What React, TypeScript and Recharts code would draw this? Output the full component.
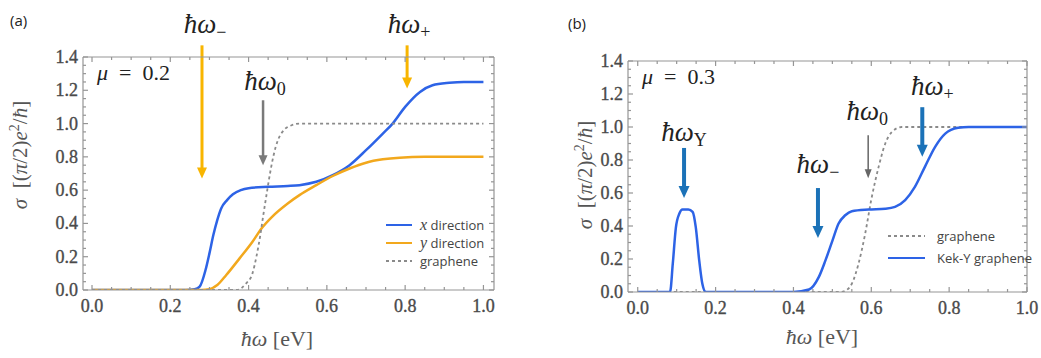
import React from "react";
import { LineChart, Line, XAxis, YAxis, ReferenceLine, Legend } from "recharts";

// panel (a), mu = 0.2
const xDirE = [0, 0.24, 0.262, 0.275, 0.29, 0.3, 0.31, 0.32, 0.33, 0.345, 0.36, 0.38, 0.4, 0.45, 0.5, 0.53, 0.573, 0.615, 0.658, 0.7, 0.743, 0.768, 0.8, 0.838, 0.87, 0.913, 0.95, 1.0];
const xDirS = [0, 0, 0.004, 0.02, 0.12, 0.22, 0.33, 0.42, 0.49, 0.54, 0.575, 0.6, 0.612, 0.62, 0.625, 0.63, 0.65, 0.69, 0.75, 0.84, 0.94, 1.0, 1.1, 1.19, 1.23, 1.245, 1.25, 1.25];

const yDirE = [0, 0.28, 0.3, 0.32, 0.343, 0.377, 0.41, 0.433, 0.46, 0.5, 0.53, 0.573, 0.615, 0.658, 0.7, 0.743, 0.786, 0.85, 1.0];
const yDirS = [0, 0, 0.005, 0.03, 0.09, 0.19, 0.29, 0.37, 0.44, 0.52, 0.57, 0.63, 0.685, 0.73, 0.765, 0.785, 0.795, 0.8, 0.8];

const grapheneAE = [0, 0.37, 0.394, 0.41, 0.42, 0.43, 0.437, 0.445, 0.454, 0.463, 0.475, 0.49, 0.51, 0.53, 1.0];
const grapheneAS = [0, 0, 0.04, 0.1, 0.2, 0.33, 0.44, 0.56, 0.69, 0.8, 0.9, 0.96, 0.99, 1.0, 1.0];

// panel (b), mu = 0.3
const kekYE = [0, 0.083, 0.09, 0.098, 0.107, 0.115, 0.13, 0.141, 0.149, 0.158, 0.166, 0.175, 0.4, 0.44, 0.465, 0.482, 0.5, 0.516, 0.533, 0.55, 0.593, 0.636, 0.661, 0.687, 0.712, 0.738, 0.764, 0.79, 0.823, 0.85, 1.0];
const kekYS = [0, 0, 0.17, 0.39, 0.476, 0.5, 0.5, 0.486, 0.395, 0.19, 0.05, 0, 0, 0.015, 0.09, 0.19, 0.31, 0.415, 0.465, 0.49, 0.5, 0.505, 0.516, 0.557, 0.637, 0.76, 0.88, 0.96, 0.995, 1.0, 1.0];

const grapheneBE = [0, 0.52, 0.535, 0.55, 0.567, 0.584, 0.6, 0.619, 0.636, 0.653, 0.678, 1.0];
const grapheneBS = [0, 0, 0.01, 0.05, 0.17, 0.35, 0.56, 0.76, 0.9, 0.97, 1.0, 1.0];

const xTicks = [0, 0.05, 0.1, 0.15, 0.2, 0.25, 0.3, 0.35, 0.4, 0.45, 0.5, 0.55, 0.6, 0.65, 0.7, 0.75, 0.8, 0.85, 0.9, 0.95, 1.0];
const yTicks = [0, 0.05, 0.1, 0.15, 0.2, 0.25, 0.3, 0.35, 0.4, 0.45, 0.5, 0.55, 0.6, 0.65, 0.7, 0.75, 0.8, 0.85, 0.9, 0.95, 1.0, 1.05, 1.1, 1.15, 1.2, 1.25, 1.3, 1.35, 1.4];
const tickLabels = ["0.0", "0.2", "0.4", "0.6", "0.8", "1.0", "1.2", "1.4"];

const legendOrderA = ["x direction", "y direction", "graphene"];
const legendOrderB = ["graphene", "Kek-Y graphene"];

// annotation arrows: energy, sigma from, sigma to, subscript
const arrowsA = [
  { e: 0.281, from: 1.47, to: 0.67, sub: "\u2212", color: "#f8b500", w: 3, hw: 10, hl: 11, gap: 12, dx: 3 },
  { e: 0.805, from: 1.47, to: 1.21, sub: "+", color: "#f8b500", w: 3, hw: 10, hl: 11, gap: 12, dx: 2 },
  { e: 0.437, from: 1.14, to: 0.75, sub: "0", color: "#7a7a7a", w: 2.5, hw: 9, hl: 10, gap: 10, dx: 2 },
];
const arrowsB = [
  { e: 0.119, from: 0.873, to: 0.57, sub: "Y", color: "#1b72b8", w: 4, hw: 11, hl: 12, gap: 7, dx: 0 },
  { e: 0.463, from: 0.63, to: 0.327, sub: "\u2212", color: "#1b72b8", w: 4, hw: 11, hl: 12, gap: 15, dx: 0 },
  { e: 0.592, from: 0.95, to: 0.69, sub: "0", color: "#666", w: 1.5, hw: 7, hl: 9, gap: 15, dx: -1 },
  { e: 0.731, from: 1.12, to: 0.82, sub: "+", color: "#1b72b8", w: 4, hw: 11, hl: 12, gap: 12, dx: 10 },
];

const zip = (e: number[], s: number[]) => e.map((v, i) => ({ e: v, s: s[i] }));

const FRAME = "#959595";
const TXT = "#4a4a4a";
const SERIF = "'Liberation Serif', 'DejaVu Serif', serif";
const SANS = "'Open Sans', 'Liberation Sans', sans-serif";

const isMajor = (v: number) => Math.abs(v * 5 - Math.round(v * 5)) < 1e-6;
const tickLen = (v: number) => (isMajor(v) ? 5 : 3);

const TickText = (props: any) => (
  <text fontFamily={SERIF} fontSize={18} fill={TXT} stroke={TXT} strokeWidth={0.35} {...props} />
);

const BottomTick = (p: any) => {
  const v = p.payload.value;
  return (
    <g>
      <line x1={p.x} x2={p.x} y1={p.y} y2={p.y - tickLen(v)} stroke={FRAME} strokeWidth={1.2} />
      {isMajor(v) && (
        <TickText x={p.x} y={p.y + 22} textAnchor="middle">
          {tickLabels[Math.round(v * 5)]}
        </TickText>
      )}
    </g>
  );
};
const TopTick = (p: any) => (
  <line x1={p.x} x2={p.x} y1={p.y} y2={p.y + tickLen(p.payload.value)} stroke={FRAME} strokeWidth={1.2} />
);
const LeftTick = (p: any) => {
  const v = p.payload.value;
  return (
    <g>
      <line x1={p.x} x2={p.x + tickLen(v)} y1={p.y} y2={p.y} stroke={FRAME} strokeWidth={1.2} />
      {isMajor(v) && (
        <TickText x={p.x - 5} y={p.y + 6} textAnchor="end">
          {tickLabels[Math.round(v * 5)]}
        </TickText>
      )}
    </g>
  );
};
const RightTick = (p: any) => (
  <line x1={p.x} x2={p.x - tickLen(p.payload.value)} y1={p.y} y2={p.y} stroke={FRAME} strokeWidth={1.2} />
);

const arrowShape = (a: any) => (props: any) => {
  const { x1, y1, x2, y2 } = props;
  return (
    <g>
      <line x1={x1} y1={y1} x2={x2} y2={y2 - a.hl + 1} stroke={a.color} strokeWidth={a.w} />
      <polygon
        points={`${x2 - a.hw / 2},${y2 - a.hl} ${x2 + a.hw / 2},${y2 - a.hl} ${x2},${y2}`}
        fill={a.color}
      />
      <text x={x1 + a.dx} y={y1 - a.gap} textAnchor="middle" fontFamily={SERIF} fontSize={27} fill="#222">
        <tspan fontStyle="italic">ħω</tspan>
        <tspan fontSize={18} dy={5}>{a.sub}</tspan>
      </text>
    </g>
  );
};

const makeLegend = (order: string[], rowGap: number, lineLen: number, textX: number) => (props: any) => {
  const items = [...(props.payload || [])].sort((a: any, b: any) => order.indexOf(a.value) - order.indexOf(b.value));
  return (
    <svg width={170} height={rowGap * items.length + 10}>
      {items.map((it: any, i: number) => {
        const y = 12 + i * rowGap;
        const m = /^([xy]) (.*)$/.exec(it.value);
        return (
          <g key={i}>
            <line
              x1={6}
              x2={6 + lineLen}
              y1={y}
              y2={y}
              stroke={it.color}
              strokeWidth={2}
              strokeDasharray={it.payload?.strokeDasharray}
            />
            <text x={textX} y={y + 4.5} fontFamily={SANS} fontSize={13} fill="#444">
              {m ? (
                <>
                  <tspan fontFamily={SERIF} fontStyle="italic" fontSize={16}>{m[1]}</tspan>
                  <tspan> {m[2]}</tspan>
                </>
              ) : (
                it.value
              )}
            </text>
          </g>
        );
      })}
    </svg>
  );
};

const axes = (xDomain: [number, number]) => [
  <XAxis key="xb" xAxisId={0} dataKey="e" type="number" domain={xDomain} allowDataOverflow ticks={xTicks} interval={0}
    height={1} tickSize={0} tickMargin={0} tick={BottomTick} axisLine={{ stroke: FRAME, strokeWidth: 1.2 }} tickLine={false} />,
  <XAxis key="xt" xAxisId="t" orientation="top" dataKey="e" type="number" domain={xDomain} allowDataOverflow ticks={xTicks} interval={0}
    height={1} tickSize={0} tickMargin={0} tick={TopTick} axisLine={{ stroke: FRAME, strokeWidth: 1.2 }} tickLine={false} />,
  <YAxis key="yl" yAxisId={0} type="number" domain={[0, 1.4]} allowDataOverflow ticks={yTicks} interval={0}
    width={1} tickSize={0} tickMargin={0} tick={LeftTick} axisLine={{ stroke: FRAME, strokeWidth: 1.2 }} tickLine={false} />,
  <YAxis key="yr" yAxisId="r" orientation="right" type="number" domain={[0, 1.4]} allowDataOverflow ticks={yTicks} interval={0}
    width={1} tickSize={0} tickMargin={0} tick={RightTick} axisLine={{ stroke: FRAME, strokeWidth: 1.2 }} tickLine={false} />,
];

const arrowLines = (list: any[], key: string) =>
  list.map((a, i) => (
    <ReferenceLine
      key={key + i}
      ifOverflow="visible"
      segment={[{ x: a.e, y: a.from }, { x: a.e, y: a.to }]}
      shape={arrowShape(a)}
    />
  ));

const YTitle = ({ x, y }: { x: number; y: number }) => (
  <text transform={`translate(${x},${y}) rotate(-90)`} textAnchor="middle" fontFamily={SERIF} fontSize={21} fill="#555">
    <tspan fontStyle="italic">σ</tspan>
    <tspan>{"\u2002[("}</tspan>
    <tspan fontStyle="italic">π</tspan>
    <tspan>/2)</tspan>
    <tspan fontStyle="italic">e</tspan>
    <tspan fontSize={14} dy={-8}>2</tspan>
    <tspan dy={8}>/</tspan>
    <tspan fontStyle="italic">ħ</tspan>
    <tspan>]</tspan>
  </text>
);

const XTitle = ({ x, y }: { x: number; y: number }) => (
  <text x={x} y={y} textAnchor="middle" fontFamily={SERIF} fontSize={22} fill="#555">
    <tspan fontStyle="italic">ħω</tspan>
    <tspan>{" [eV]"}</tspan>
  </text>
);

const Mu = ({ x, y, v }: { x: number; y: number; v: string }) => (
  <text x={x} y={y} fontFamily={SERIF} fontSize={22} fill="#222">
    <tspan fontStyle="italic">μ</tspan>
    <tspan>{"\u2002=\u2002" + v}</tspan>
  </text>
);

export default function App() {
  return (
    <div style={{ position: "absolute", left: 0, top: 0, width: 1041, height: 358, background: "#fff" }}>
      <div style={{ position: "absolute", left: 0, top: 0 }}>
        <LineChart width={520} height={358} margin={{ top: 56, right: 25, bottom: 67, left: 82 }}>
          {axes([-0.023, 1.027])}
          <Line data={zip(xDirE, xDirS)} dataKey="s" name="x direction" type="monotone" stroke="#2d63e6"
            strokeWidth={2.5} dot={false} isAnimationActive={false} />
          <Line data={zip(yDirE, yDirS)} dataKey="s" name="y direction" type="monotone" stroke="#f2a81d"
            strokeWidth={2.5} dot={false} isAnimationActive={false} />
          <Line data={zip(grapheneAE, grapheneAS)} dataKey="s" name="graphene" type="monotone" stroke="#8a8a8a"
            strokeWidth={1.8} strokeDasharray="3 3" dot={false} isAnimationActive={false} />
          {arrowLines(arrowsA, "a")}
          <Legend layout="vertical" align="center" verticalAlign="middle" content={makeLegend(legendOrderA, 18, 26, 40)}
            wrapperStyle={{ left: 380, top: 213, width: 140 }} />
        </LineChart>
      </div>
      <div style={{ position: "absolute", left: 520, top: 0 }}>
        <LineChart width={521} height={358} margin={{ top: 60, right: 13, bottom: 65, left: 107 }}>
          {axes([-0.025, 1.0])}
          <Line data={zip(grapheneBE, grapheneBS)} dataKey="s" name="graphene" type="monotone" stroke="#8a8a8a"
            strokeWidth={1.8} strokeDasharray="3 3" dot={false} isAnimationActive={false} />
          <Line data={zip(kekYE, kekYS)} dataKey="s" name="Kek-Y graphene" type="monotone" stroke="#2d63e6"
            strokeWidth={2.5} dot={false} isAnimationActive={false} />
          {arrowLines(arrowsB, "b")}
          <Legend layout="vertical" align="center" verticalAlign="middle" content={makeLegend(legendOrderB, 22, 37, 55)}
            wrapperStyle={{ left: 362, top: 224, width: 160 }} />
        </LineChart>
      </div>
      <svg width={1041} height={358} style={{ position: "absolute", left: 0, top: 0, pointerEvents: "none" }}>
        <text x={10} y={26} fontFamily={SANS} fontSize={15} fill="#222">(a)</text>
        <text x={568} y={29} fontFamily={SANS} fontSize={15} fill="#222">(b)</text>
        <Mu x={97} y={80} v="0.2" />
        <Mu x={642} y={84} v="0.3" />
        <YTitle x={27} y={155} />
        <YTitle x={592} y={175} />
        <XTitle x={277} y={346} />
        <XTitle x={822} y={344} />
      </svg>
    </div>
  );
}
